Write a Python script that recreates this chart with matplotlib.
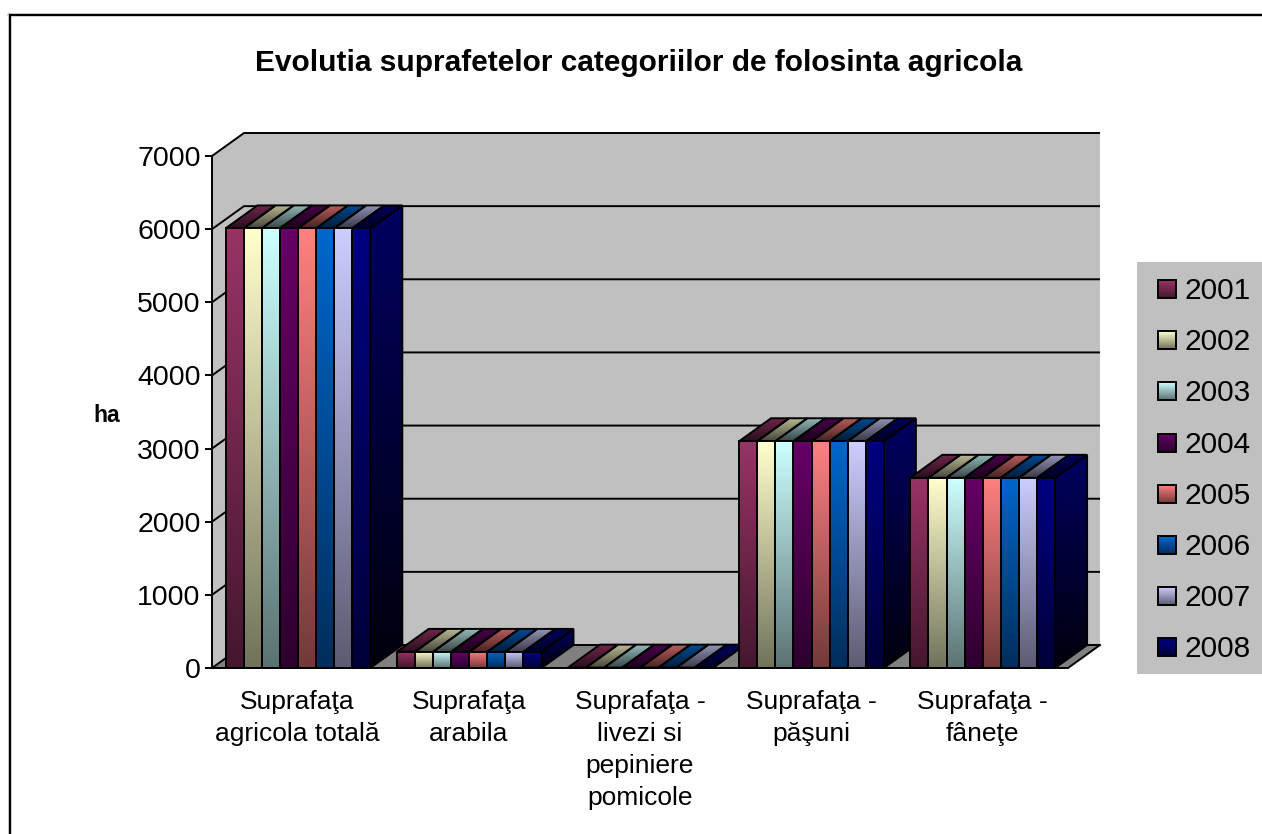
import matplotlib
matplotlib.use("Agg")
import matplotlib.pyplot as plt
import numpy as np
from matplotlib.lines import Line2D
from matplotlib.patches import Polygon, Rectangle

plt.rcParams['font.family'] = ['Liberation Sans', 'DejaVu Sans']

years = ['2001', '2002', '2003', '2004', '2005', '2006', '2007', '2008']
colors = ['#993366', '#FFFFCC', '#CCFFFF', '#660066', '#FF8080', '#0066CC', '#CCCCFF', '#000080']
categories = ['Suprafaţa\nagricola totală', 'Suprafaţa\narabila', 'Suprafaţa -\nlivezi si\npepiniere\npomicole',
              'Suprafaţa -\npăşuni', 'Suprafaţa -\nfâneţe']

agricola_totala = [6010, 6010, 6010, 6010, 6010, 6010, 6010, 6010]
arabila = [220, 220, 220, 220, 220, 220, 220, 220]
livezi = [5, 5, 5, 5, 5, 5, 5, 5]
pasuni = [3100, 3100, 3100, 3100, 3100, 3100, 3100, 3100]
fanete = [2600, 2600, 2600, 2600, 2600, 2600, 2600, 2600]
y_ticks = [0, 1000, 2000, 3000, 4000, 5000, 6000, 7000]

W, H = 1262, 834
DX = 32 / 171.2   # adancimea 3D in unitati de categorie
DY = 23 / 512 * 7000
BAR_W = 18.1 / 171.2
BAR_START = 13.5 / 171.2
LW = 1.4


def rgb(c):
    return np.array(matplotlib.colors.to_rgb(c))


def gradient_fill(ax, poly, c, top, bottom, z):
    # umple un poligon cu un gradient vertical, decupat pe forma lui
    xy = poly.get_xy()
    col = rgb(c)
    grad = np.linspace(top, bottom, 64)[:, None, None] * col[None, None, :]
    im = ax.imshow(grad, extent=(xy[:, 0].min(), xy[:, 0].max(), xy[:, 1].min(), xy[:, 1].max()),
                   aspect='auto', origin='upper', zorder=z, interpolation='bilinear')
    im.set_clip_path(poly)
    im.set_clip_box(ax.figure.bbox)  # altfel imaginea e taiata la marginea axelor


fig = plt.figure(figsize=(W / 100, H / 100), dpi=100, facecolor='white')
ax = fig.add_axes([212 / W, (H - 668) / H, 856 / W, 512 / H])
ax.patch.set_visible(False)
for s in ['top', 'right', 'bottom']:
    ax.spines[s].set_visible(False)
ax.spines['left'].set_linewidth(LW)

# pereti si podea
ax.add_patch(Polygon([(0, 0), (0, 7000), (DX, 7000 + DY), (5 + DX, 7000 + DY), (5 + DX, DY), (5, 0)],
                     facecolor='#C0C0C0', edgecolor='none', clip_on=False, zorder=1))
ax.add_patch(Polygon([(0, 0), (5, 0), (5 + DX, DY), (DX, DY)], facecolor='#808080', edgecolor='none',
                     clip_on=False, zorder=1.5))
for t in y_ticks:
    ax.plot([0, DX, 5 + DX], [t, t + DY, t + DY], color='black', lw=LW, clip_on=False, zorder=2,
            solid_capstyle='butt')
ax.plot([0, 5, 5 + DX], [0, 0, DY], color='black', lw=LW, clip_on=False, zorder=2)

data = [agricola_totala, arabila, livezi, pasuni, fanete]
z = 3.0
for i, vals in enumerate(data):
    xs = i + BAR_START + BAR_W * np.arange(len(vals))
    bars = ax.bar(xs, vals, BAR_W, align='edge', facecolor='none', edgecolor='black', linewidth=LW,
                  clip_on=False, zorder=z + 0.5)
    for x, v, c, bar in zip(xs, vals, colors, bars):
        top = Polygon([(x, v), (x + BAR_W, v), (x + BAR_W + DX, v + DY), (x + DX, v + DY)],
                      facecolor='none', edgecolor='black', linewidth=LW, clip_on=False, zorder=z + 0.3)
        ax.add_patch(top)
        gradient_fill(ax, top, c, 0.72, 0.28, z + 0.2)
        front = Polygon([(x, 0), (x + BAR_W, 0), (x + BAR_W, v), (x, v)], facecolor='none', edgecolor='none',
                        clip_on=False, zorder=z + 0.4)
        ax.add_patch(front)
        gradient_fill(ax, front, c, 1.0, 0.45, z + 0.4)
    x_end = xs[-1] + BAR_W
    v = vals[-1]
    side = Polygon([(x_end, 0), (x_end + DX, DY), (x_end + DX, v + DY), (x_end, v)],
                   facecolor='none', edgecolor='black', linewidth=LW, clip_on=False, zorder=z + 0.1)
    ax.add_patch(side)
    gradient_fill(ax, side, colors[-1], 0.75, 0.1, z)
    z += 1

ax.set_xlim(0, 5)
ax.set_ylim(0, 7000)
ax.set_yticks(y_ticks)
ax.set_xticks(np.arange(5) + 0.5)
ax.set_xticklabels(categories, fontsize=19, linespacing=1.43)
ax.tick_params(axis='y', labelsize=20.5, length=5, width=LW, pad=3.2)
ax.tick_params(axis='x', length=0, pad=15.5)

fig.text(639 / W, 1 - 63 / H, 'Evolutia suprafetelor categoriilor de folosinta agricola', fontsize=21.5,
         fontweight='bold', ha='center', va='center')
fig.text(107 / W, 1 - 415 / H, 'ha', fontsize=16.5, fontweight='bold', ha='center', va='center')

# legenda
leg = fig.add_axes([1137 / W, (H - 674) / H, 125 / W, 412 / H])
leg.set_facecolor('#C0C0C0')
for s in leg.spines.values():
    s.set_visible(False)
for i, (yr, c) in enumerate(zip(years, colors)):
    yc = 27 + 51.2 * i
    sw = Rectangle((21, yc - 9), 18, 18, facecolor='none', edgecolor='black', linewidth=LW, zorder=3)
    leg.add_patch(sw)
    grad = np.linspace(1.0, 0.45, 32)[:, None, None] * rgb(c)[None, None, :]
    leg.imshow(grad, extent=(21, 39, yc + 9, yc - 9), aspect='auto', zorder=2)
    leg.text(48, yc + 2, yr, fontsize=21.5, va='center', ha='left')
leg.set_xlim(0, 125)
leg.set_ylim(412, 0)
leg.set_xticks([])
leg.set_yticks([])

# chenarul graficului
fig.add_artist(Line2D([9.5 / W, 9.5 / W], [0, 1 - 15 / H], color='black', lw=LW + 0.3))
fig.add_artist(Line2D([8.5 / W, 1], [1 - 15 / H, 1 - 15 / H], color='black', lw=LW + 0.3))
fig.add_artist(Line2D([8.5 / W, 1], [1 - 13 / H, 1 - 13 / H], color='#C0C0C0', lw=0.7))
fig.add_artist(Line2D([8 / W, 8 / W], [0, 1 - 13 / H], color='#C0C0C0', lw=0.7))

plt.savefig("out.png", dpi=100)
